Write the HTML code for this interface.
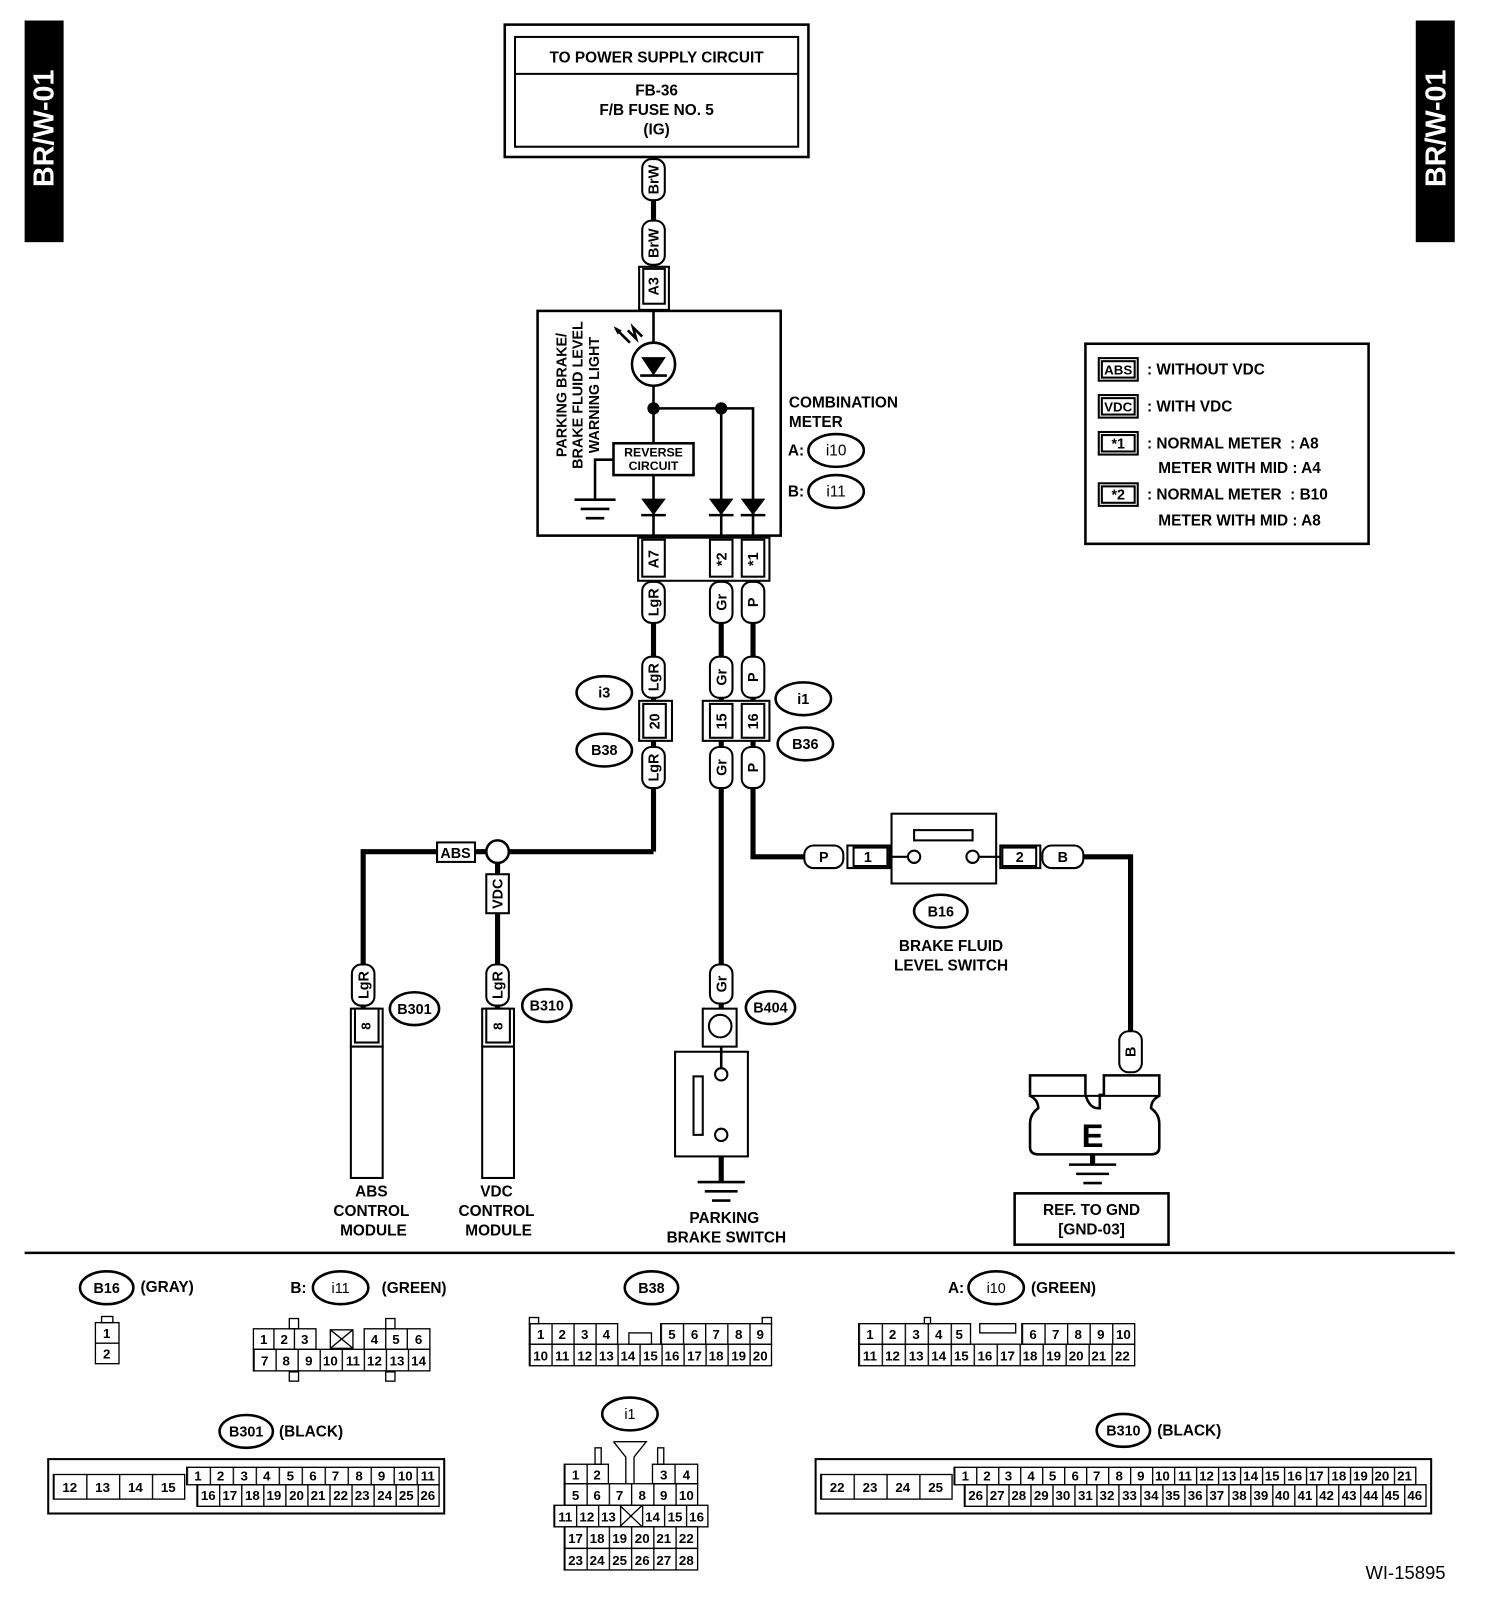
<!DOCTYPE html>
<html><head><meta charset="utf-8"><style>
html,body{margin:0;padding:0;background:#fff;}
svg{display:block;}
text{font-family:"Liberation Sans",sans-serif;font-weight:bold;fill:#000;}
.t{font-size:15px;}
.s{font-size:13px;font-weight:normal;}
.m{text-anchor:middle;}
</style></head><body>
<svg width="1504" height="1612" viewBox="0 0 1466 1571" preserveAspectRatio="none" xmlns="http://www.w3.org/2000/svg">
<defs>
<pattern id="pb301a" x="182" y="0" width="22.4" height="10" patternUnits="userSpaceOnUse"><rect width="1.3" height="10" fill="#000"/></pattern>
<pattern id="pb301b" x="192" y="0" width="21.5" height="10" patternUnits="userSpaceOnUse"><rect width="1.3" height="10" fill="#000"/></pattern>
<pattern id="pb310a" x="930" y="0" width="21.43" height="10" patternUnits="userSpaceOnUse"><rect width="1.3" height="10" fill="#000"/></pattern>
<pattern id="pb310b" x="940" y="0" width="21.43" height="10" patternUnits="userSpaceOnUse"><rect width="1.3" height="10" fill="#000"/></pattern>
<pattern id="p32" x="52" y="0" width="32" height="10" patternUnits="userSpaceOnUse"><rect width="1.3" height="10" fill="#000"/></pattern>
<pattern id="p32b" x="800" y="0" width="32" height="10" patternUnits="userSpaceOnUse"><rect width="1.3" height="10" fill="#000"/></pattern>
<pattern id="pb38" x="516" y="0" width="21.45" height="10" patternUnits="userSpaceOnUse"><rect width="1.3" height="10" fill="#000"/></pattern>
<pattern id="pb38a" x="644" y="0" width="21.6" height="10" patternUnits="userSpaceOnUse"><rect width="1.3" height="10" fill="#000"/></pattern>
<pattern id="pi10" x="837" y="0" width="22.4" height="10" patternUnits="userSpaceOnUse"><rect width="1.3" height="10" fill="#000"/></pattern>
<pattern id="pi10a" x="996" y="0" width="22" height="10" patternUnits="userSpaceOnUse"><rect width="1.3" height="10" fill="#000"/></pattern>
<pattern id="pi11" x="247" y="0" width="21.5" height="10" patternUnits="userSpaceOnUse"><rect width="1.3" height="10" fill="#000"/></pattern>
<pattern id="pi1a" x="550" y="0" width="21.67" height="10" patternUnits="userSpaceOnUse"><rect width="1.3" height="10" fill="#000"/></pattern>
<pattern id="pi1b" x="540" y="0" width="21.43" height="10" patternUnits="userSpaceOnUse"><rect width="1.3" height="10" fill="#000"/></pattern>
</defs>

<rect x="24" y="20" width="38" height="216" fill="#000"/>
<text transform="rotate(-90 52 125)" x="52" y="125" class="m" style="font-size:28px;fill:#fff">BR/W-01</text>
<rect x="1380" y="20" width="38" height="216" fill="#000"/>
<text transform="rotate(-90 1409 125)" x="1409" y="125" class="m" style="font-size:28px;fill:#fff">BR/W-01</text>

<rect x="492" y="24" width="296" height="129" fill="none" stroke="#000" stroke-width="2.5"/>
<rect x="502" y="36" width="276" height="107" fill="none" stroke="#000" stroke-width="2"/>
<line x1="502" y1="72" x2="778" y2="72" stroke="#000" stroke-width="2"/>
<text x="640" y="61" class="t m">TO POWER SUPPLY CIRCUIT</text>
<text x="640" y="93" class="t m">FB-36</text>
<text x="640" y="112" class="t m">F/B FUSE NO. 5</text>
<text x="640" y="131" class="t m">(IG)</text>

<g stroke="#000" stroke-width="5" fill="none">
<line x1="637" y1="153" x2="637" y2="260"/>
<line x1="637" y1="566" x2="637" y2="830"/>
<line x1="703" y1="566" x2="703" y2="985"/>
<polyline points="734,566 734,835 790,835"/>
<polyline points="354,985 354,830 637,830"/>
<line x1="485" y1="830" x2="485" y2="985"/>
<polyline points="1055,835 1102,835 1102,1010"/>
<line x1="703" y1="1127" x2="703" y2="1152"/>
<line x1="1065" y1="1125" x2="1065" y2="1135"/>
</g>

<g stroke="#000" stroke-width="2" fill="#fff">
<rect x="626" y="155" width="22" height="40" rx="9"/>
<rect x="626" y="215" width="22" height="43" rx="9"/>
<rect x="626" y="567" width="22" height="40" rx="9"/>
<rect x="626" y="640" width="22" height="40" rx="9"/>
<rect x="626" y="728" width="22" height="40" rx="9"/>
<rect x="692" y="567" width="22" height="40" rx="9"/>
<rect x="692" y="640" width="22" height="40" rx="9"/>
<rect x="692" y="728" width="22" height="40" rx="9"/>
<rect x="723" y="567" width="22" height="40" rx="9"/>
<rect x="723" y="640" width="22" height="40" rx="9"/>
<rect x="723" y="728" width="22" height="40" rx="9"/>
<rect x="343" y="940" width="22" height="40" rx="9"/>
<rect x="474" y="940" width="22" height="40" rx="9"/>
<rect x="692" y="940" width="22" height="38" rx="9"/>
<rect x="1091" y="1005" width="22" height="40" rx="9"/>
<rect x="784" y="824" width="38" height="22" rx="9"/>
<rect x="1016" y="824" width="40" height="22" rx="9"/>
<rect x="474" y="852" width="22" height="38"/>
<rect x="426" y="821" width="37" height="19"/>
</g>
<g class="s" style="font-size:14px">
<text transform="rotate(-90 637 175)" x="637" y="180" class="m" style="font-weight:bold">BrW</text>
<text transform="rotate(-90 637 237)" x="637" y="242" class="m" style="font-weight:bold">BrW</text>
<text transform="rotate(-90 637 587)" x="637" y="592" class="m" style="font-weight:bold">LgR</text>
<text transform="rotate(-90 637 660)" x="637" y="665" class="m" style="font-weight:bold">LgR</text>
<text transform="rotate(-90 637 748)" x="637" y="753" class="m" style="font-weight:bold">LgR</text>
<text transform="rotate(-90 703 587)" x="703" y="592" class="m" style="font-weight:bold">Gr</text>
<text transform="rotate(-90 703 660)" x="703" y="665" class="m" style="font-weight:bold">Gr</text>
<text transform="rotate(-90 703 748)" x="703" y="753" class="m" style="font-weight:bold">Gr</text>
<text transform="rotate(-90 734 587)" x="734" y="592" class="m" style="font-weight:bold">P</text>
<text transform="rotate(-90 734 660)" x="734" y="665" class="m" style="font-weight:bold">P</text>
<text transform="rotate(-90 734 748)" x="734" y="753" class="m" style="font-weight:bold">P</text>
<text transform="rotate(-90 354 960)" x="354" y="965" class="m" style="font-weight:bold">LgR</text>
<text transform="rotate(-90 485 960)" x="485" y="965" class="m" style="font-weight:bold">LgR</text>
<text transform="rotate(-90 703 959)" x="703" y="964" class="m" style="font-weight:bold">Gr</text>
<text transform="rotate(-90 1102 1025)" x="1102" y="1030" class="m" style="font-weight:bold">B</text>
<text transform="rotate(-90 485 871)" x="485" y="876" class="m" style="font-weight:bold">VDC</text>
<text x="803" y="840" class="m" style="font-weight:bold">P</text>
<text x="1036" y="840" class="m" style="font-weight:bold">B</text>
<text x="444" y="836" class="m" style="font-weight:bold">ABS</text>
</g>
<circle cx="485" cy="830" r="11" fill="#fff" stroke="#000" stroke-width="2.5"/>

<rect x="623" y="260" width="29" height="42" fill="#fff" stroke="#000" stroke-width="2"/>
<rect x="627" y="262" width="21" height="34" fill="#fff" stroke="#000" stroke-width="2"/>
<text transform="rotate(-90 637 279)" x="637" y="284" class="m" style="font-size:14px">A3</text>

<rect x="524" y="303" width="237" height="219" fill="#fff" stroke="#000" stroke-width="2.5"/>
<g stroke="#000" stroke-width="2.5" fill="none">
<line x1="637" y1="303" x2="637" y2="334"/>
<circle cx="637" cy="355" r="21"/>
<line x1="637" y1="376" x2="637" y2="432"/>
<line x1="637" y1="463" x2="637" y2="522"/>
<polyline points="637,398 734,398 734,522"/>
<line x1="703" y1="398" x2="703" y2="522"/>
<rect x="598" y="432" width="78" height="31"/>
<polyline points="598,448 580,448 580,486"/>
<line x1="560" y1="487" x2="600" y2="487"/>
<line x1="566" y1="496" x2="594" y2="496"/>
<line x1="571" y1="505" x2="589" y2="505"/>
<line x1="624" y1="366" x2="650" y2="366"/>
<line x1="625" y1="502" x2="649" y2="502"/>
<line x1="691" y1="502" x2="715" y2="502"/>
<line x1="722" y1="502" x2="746" y2="502"/>
<line x1="600" y1="320" x2="614" y2="334"/>
<polyline points="612,322 620,330 617,319 626,328"/>
</g>
<g fill="#000">
<polygon points="625,348 649,348 637,366"/>
<polygon points="625,486 649,486 637,502"/>
<polygon points="691,486 715,486 703,502"/>
<polygon points="722,486 746,486 734,502"/>
<circle cx="637" cy="398" r="6"/>
<circle cx="703" cy="398" r="6"/>
<polygon points="598,318 606,322 602,326"/>
</g>
<text x="637" y="445" class="m" style="font-size:12px">REVERSE</text>
<text x="637" y="458" class="m" style="font-size:12px">CIRCUIT</text>
<text transform="rotate(-90 547 385)" x="547" y="390" class="m" style="font-size:14px">PARKING BRAKE/</text>
<text transform="rotate(-90 563 385)" x="563" y="390" class="m" style="font-size:14px">BRAKE FLUID LEVEL</text>
<text transform="rotate(-90 579 385)" x="579" y="390" class="m" style="font-size:14px">WARNING LIGHT</text>

<rect x="622" y="524" width="128" height="42" fill="#fff" stroke="#000" stroke-width="2"/>
<g stroke="#000" stroke-width="2" fill="#fff">
<rect x="626" y="526" width="22" height="36"/>
<rect x="692" y="526" width="22" height="36"/>
<rect x="723" y="526" width="22" height="36"/>
</g>
<text transform="rotate(-90 637 545)" x="637" y="550" class="m" style="font-size:14px">A7</text>
<text transform="rotate(-90 703 545)" x="703" y="550" class="m" style="font-size:14px">*2</text>
<text transform="rotate(-90 734 545)" x="734" y="550" class="m" style="font-size:14px">*1</text>

<text x="769" y="397" class="t">COMBINATION</text>
<text x="769" y="416" class="t">METER</text>
<text x="768" y="444" class="t">A:</text>
<text x="768" y="484" class="t">B:</text>
<g fill="#fff" stroke="#000" stroke-width="2.5">
<ellipse cx="815" cy="439" rx="27" ry="16"/>
<ellipse cx="815" cy="479" rx="27" ry="16"/>
<ellipse cx="589" cy="675" rx="27" ry="16"/>
<ellipse cx="589" cy="731" rx="27" ry="16"/>
<ellipse cx="783" cy="681" rx="27" ry="16"/>
<ellipse cx="785" cy="725" rx="27" ry="16"/>
<ellipse cx="404" cy="983" rx="24" ry="16"/>
<ellipse cx="533" cy="980" rx="24" ry="16"/>
<ellipse cx="751" cy="982" rx="24" ry="16"/>
<ellipse cx="917" cy="888" rx="26" ry="16"/>
<ellipse cx="104" cy="1255" rx="26" ry="16"/>
<ellipse cx="332" cy="1255" rx="27" ry="16"/>
<ellipse cx="635" cy="1255" rx="26" ry="16"/>
<ellipse cx="971" cy="1255" rx="27" ry="16"/>
<ellipse cx="240" cy="1395" rx="26" ry="16"/>
<ellipse cx="614" cy="1378" rx="27" ry="16"/>
<ellipse cx="1095" cy="1394" rx="26" ry="16"/>
</g>
<g class="t m" style="font-size:14px">
<text x="815" y="444" class="s m" style="font-size:15px">i10</text>
<text x="815" y="484" class="s m" style="font-size:15px">i11</text>
<text x="589" y="680">i3</text>
<text x="589" y="736">B38</text>
<text x="783" y="686">i1</text>
<text x="785" y="730">B36</text>
<text x="404" y="988">B301</text>
<text x="533" y="985">B310</text>
<text x="751" y="987">B404</text>
<text x="917" y="893">B16</text>
<text x="104" y="1260">B16</text>
<text x="332" y="1260" style="font-weight:normal">i11</text>
<text x="635" y="1260">B38</text>
<text x="971" y="1260" style="font-weight:normal">i10</text>
<text x="240" y="1400">B301</text>
<text x="614" y="1383" style="font-weight:normal">i1</text>
<text x="1095" y="1399">B310</text>
</g>

<rect x="623" y="683" width="32" height="39" fill="#fff" stroke="#000" stroke-width="2"/>
<rect x="627" y="686" width="22" height="33" fill="#fff" stroke="#000" stroke-width="2"/>
<text transform="rotate(-90 638 703)" x="638" y="708" class="m" style="font-size:14px">20</text>
<rect x="685" y="683" width="65" height="39" fill="#fff" stroke="#000" stroke-width="2"/>
<rect x="692" y="686" width="22" height="33" fill="#fff" stroke="#000" stroke-width="2"/>
<rect x="723" y="686" width="22" height="33" fill="#fff" stroke="#000" stroke-width="2"/>
<text transform="rotate(-90 703 703)" x="703" y="708" class="m" style="font-size:14px">15</text>
<text transform="rotate(-90 734 703)" x="734" y="708" class="m" style="font-size:14px">16</text>

<g fill="#fff" stroke="#000" stroke-width="2">
<rect x="342" y="983" width="31" height="37"/>
<rect x="346" y="983" width="23" height="33"/>
<rect x="342" y="1020" width="31" height="128"/>
<rect x="470" y="983" width="31" height="37"/>
<rect x="474" y="983" width="23" height="33"/>
<rect x="470" y="1020" width="31" height="128"/>
<rect x="685" y="983" width="33" height="37"/>
<circle cx="702" cy="1000" r="11"/>
<rect x="658" y="1025" width="71" height="102"/>
<circle cx="703" cy="1047" r="6"/>
<circle cx="703" cy="1106" r="6"/>
<rect x="676" y="1049" width="9" height="57"/>
</g>
<text transform="rotate(-90 356 1000)" x="356" y="1005" class="m" style="font-size:13px">8</text>
<text transform="rotate(-90 485 1000)" x="485" y="1005" class="m" style="font-size:13px">8</text>
<g stroke="#000" stroke-width="2.5">
<line x1="703" y1="1020" x2="703" y2="1041"/>
<line x1="680" y1="1152" x2="726" y2="1152"/>
<line x1="687" y1="1161" x2="719" y2="1161"/>
<line x1="694" y1="1170" x2="712" y2="1170"/>
</g>
<g class="t m">
<text x="362" y="1166">ABS</text><text x="362" y="1185">CONTROL</text><text x="364" y="1204">MODULE</text>
<text x="484" y="1166">VDC</text><text x="484" y="1185">CONTROL</text><text x="486" y="1204">MODULE</text>
<text x="706" y="1192">PARKING</text><text x="708" y="1211">BRAKE SWITCH</text>
<text x="927" y="927">BRAKE FLUID</text><text x="927" y="946">LEVEL SWITCH</text>
</g>

<g fill="#fff" stroke="#000" stroke-width="2">
<rect x="826" y="824" width="41" height="22"/>
<rect x="832" y="826" width="33" height="18"/>
<rect x="869" y="793" width="102" height="68"/>
<rect x="891" y="809" width="57" height="10"/>
<circle cx="891" cy="835" r="6"/>
<circle cx="948" cy="835" r="6"/>
<rect x="975" y="824" width="39" height="22"/>
<rect x="977" y="826" width="33" height="18"/>
</g>
<g stroke="#000" stroke-width="2"><line x1="867" y1="835" x2="885" y2="835"/><line x1="954" y1="835" x2="975" y2="835"/></g>
<text x="846" y="840" class="m" style="font-size:14px">1</text>
<text x="994" y="840" class="m" style="font-size:14px">2</text>

<path d="M1004,1048 H1058 V1067 Q1062,1080 1070,1080 H1072 V1067 H1076 V1048 H1130 V1068 Q1122,1072 1122,1080 Q1130,1086 1130,1095 V1118 Q1130,1125 1122,1125 H1012 Q1004,1125 1004,1118 V1095 Q1004,1086 1012,1080 Q1012,1072 1004,1068 Z" fill="#fff" stroke="#000" stroke-width="2.5"/>
<line x1="1004" y1="1068" x2="1130" y2="1068" stroke="#000" stroke-width="2"/>
<text x="1065" y="1118" class="m" style="font-size:32px">E</text>
<g stroke="#000" stroke-width="2.5">
<line x1="1042" y1="1135" x2="1088" y2="1135"/>
<line x1="1049" y1="1144" x2="1081" y2="1144"/>
<line x1="1056" y1="1153" x2="1074" y2="1153"/>
</g>
<rect x="989" y="1163" width="150" height="50" fill="#fff" stroke="#000" stroke-width="2.5"/>
<text x="1064" y="1184" class="t m">REF. TO GND</text>
<text x="1064" y="1203" class="t m">[GND-03]</text>

<rect x="1058" y="335" width="276" height="195" fill="#fff" stroke="#000" stroke-width="2.5"/>
<g fill="#fff" stroke="#000" stroke-width="2">
<rect x="1071" y="349" width="38" height="22"/><rect x="1074" y="352" width="32" height="16"/>
<rect x="1071" y="385" width="38" height="22"/><rect x="1074" y="388" width="32" height="16"/>
<rect x="1071" y="421" width="38" height="22"/><rect x="1074" y="424" width="32" height="16"/>
<rect x="1071" y="471" width="38" height="22"/><rect x="1074" y="474" width="32" height="16"/>
</g>
<g class="t">
<text x="1090" y="365" class="m" style="font-size:13px">ABS</text>
<text x="1090" y="401" class="m" style="font-size:13px">VDC</text>
<text x="1090" y="437" class="m" style="font-size:14px">*1</text>
<text x="1090" y="487" class="m" style="font-size:14px">*2</text>
<text x="1118" y="365">: WITHOUT VDC</text>
<text x="1118" y="401">: WITH VDC</text>
<text x="1118" y="437">: NORMAL METER&#160;&#160;: A8</text>
<text x="1129" y="461">METER WITH MID : A4</text>
<text x="1118" y="487">: NORMAL METER&#160;&#160;: B10</text>
<text x="1129" y="512">METER WITH MID : A8</text>
</g>

<line x1="24" y1="1221" x2="1418" y2="1221" stroke="#000" stroke-width="2.5"/>

<g class="t"><text x="137" y="1259">(GRAY)</text><text x="283" y="1260">B:</text><text x="372" y="1260">(GREEN)</text>
<text x="924" y="1260">A:</text><text x="1005" y="1260">(GREEN)</text>
<text x="272" y="1400">(BLACK)</text><text x="1128" y="1399">(BLACK)</text></g>

<g fill="none" stroke="#000" stroke-width="1.3">
<rect x="99" y="1283" width="11" height="6"/>
<rect x="93" y="1289" width="23" height="40"/><line x1="93" y1="1309" x2="116" y2="1309"/>
<rect x="282" y="1285" width="9" height="10"/><rect x="376" y="1285" width="9" height="10"/>
<rect x="282" y="1337" width="9" height="9"/><rect x="376" y="1337" width="9" height="9"/>
<rect x="247" y="1295" width="61" height="20"/><line x1="267" y1="1295" x2="267" y2="1315"/><line x1="287" y1="1295" x2="287" y2="1315"/>
<rect x="322" y="1296" width="22" height="18"/><line x1="322" y1="1296" x2="344" y2="1314"/><line x1="344" y1="1296" x2="322" y2="1314"/>
<rect x="355" y="1295" width="64" height="20"/><line x1="376" y1="1295" x2="376" y2="1315"/><line x1="397" y1="1295" x2="397" y2="1315"/>
<rect x="247" y="1315" width="172" height="21" fill="url(#pi11)"/>
<rect x="516" y="1284" width="9" height="6"/><rect x="743" y="1284" width="9" height="6"/>
<rect x="516" y="1290" width="86" height="20" fill="url(#pb38)"/>
<rect x="613" y="1299" width="22" height="11"/>
<rect x="644" y="1290" width="108" height="20" fill="url(#pb38a)"/>
<rect x="516" y="1310" width="236" height="21" fill="url(#pb38)"/>
<rect x="901" y="1284" width="6" height="6"/>
<rect x="837" y="1290" width="109" height="20" fill="url(#pi10)"/>
<rect x="955" y="1290" width="35" height="9"/>
<rect x="996" y="1290" width="110" height="20" fill="url(#pi10a)"/>
<rect x="837" y="1310" width="269" height="21" fill="url(#pi10)"/>
<rect x="47" y="1422" width="386" height="53" stroke-width="2"/>
<rect x="52" y="1437" width="128" height="24" fill="url(#p32)"/>
<rect x="182" y="1430" width="246" height="17" fill="url(#pb301a)"/>
<rect x="192" y="1447" width="236" height="21" fill="url(#pb301b)"/>
<rect x="795" y="1422" width="600" height="53" stroke-width="2"/>
<rect x="800" y="1437" width="128" height="24" fill="url(#p32b)"/>
<rect x="930" y="1430" width="450" height="17" fill="url(#pb310a)"/>
<rect x="940" y="1447" width="450" height="21" fill="url(#pb310b)"/>
<rect x="580" y="1411" width="6" height="16"/><rect x="641" y="1411" width="6" height="16"/>
<path d="M598,1405 H630 L618,1420 V1446 M610,1446 V1420 L598,1405"/>
<rect x="550" y="1427" width="43" height="19" fill="url(#pi1a)"/>
<rect x="636" y="1427" width="44" height="19"/><line x1="658" y1="1427" x2="658" y2="1446"/>
<rect x="550" y="1446" width="130" height="21" fill="url(#pi1a)"/>
<rect x="540" y="1467" width="150" height="21" fill="url(#pi1b)"/>
<line x1="604" y1="1467" x2="626" y2="1488"/><line x1="626" y1="1467" x2="604" y2="1488"/>
<rect x="550" y="1488" width="130" height="21" fill="url(#pi1a)"/>
<rect x="550" y="1509" width="130" height="21" fill="url(#pi1a)"/>
</g>

<g class="s m">
<text x="104" y="1304">1</text><text x="104" y="1324">2</text>
<text x="257" y="1310">1</text><text x="277" y="1310">2</text><text x="297" y="1310">3</text>
<text x="365" y="1310">4</text><text x="386" y="1310">5</text><text x="408" y="1310">6</text>
<text x="258" y="1331">7</text><text x="279" y="1331">8</text><text x="301" y="1331">9</text><text x="322" y="1331">10</text><text x="344" y="1331">11</text><text x="365" y="1331">12</text><text x="387" y="1331">13</text><text x="408" y="1331">14</text>
<text x="527" y="1305">1</text><text x="548" y="1305">2</text><text x="570" y="1305">3</text><text x="591" y="1305">4</text>
<text x="655" y="1305">5</text><text x="677" y="1305">6</text><text x="698" y="1305">7</text><text x="720" y="1305">8</text><text x="741" y="1305">9</text>
<text x="527" y="1326">10</text><text x="548" y="1326">11</text><text x="570" y="1326">12</text><text x="591" y="1326">13</text><text x="612" y="1326">14</text><text x="634" y="1326">15</text><text x="655" y="1326">16</text><text x="677" y="1326">17</text><text x="698" y="1326">18</text><text x="720" y="1326">19</text><text x="741" y="1326">20</text>
<text x="848" y="1305">1</text><text x="870" y="1305">2</text><text x="893" y="1305">3</text><text x="915" y="1305">4</text><text x="935" y="1305">5</text>
<text x="1007" y="1305">6</text><text x="1029" y="1305">7</text><text x="1051" y="1305">8</text><text x="1073" y="1305">9</text><text x="1095" y="1305">10</text>
<text x="848" y="1326">11</text><text x="870" y="1326">12</text><text x="893" y="1326">13</text><text x="915" y="1326">14</text><text x="937" y="1326">15</text><text x="960" y="1326">16</text><text x="982" y="1326">17</text><text x="1004" y="1326">18</text><text x="1027" y="1326">19</text><text x="1049" y="1326">20</text><text x="1071" y="1326">21</text><text x="1094" y="1326">22</text>
<text x="68" y="1454">12</text><text x="100" y="1454">13</text><text x="132" y="1454">14</text><text x="164" y="1454">15</text>
<text x="193" y="1443">1</text><text x="215" y="1443">2</text><text x="238" y="1443">3</text><text x="260" y="1443">4</text><text x="283" y="1443">5</text><text x="305" y="1443">6</text><text x="327" y="1443">7</text><text x="350" y="1443">8</text><text x="372" y="1443">9</text><text x="395" y="1443">10</text><text x="417" y="1443">11</text>
<text x="203" y="1462">16</text><text x="224" y="1462">17</text><text x="246" y="1462">18</text><text x="267" y="1462">19</text><text x="289" y="1462">20</text><text x="310" y="1462">21</text><text x="332" y="1462">22</text><text x="353" y="1462">23</text><text x="375" y="1462">24</text><text x="396" y="1462">25</text><text x="417" y="1462">26</text>
<text x="816" y="1454">22</text><text x="848" y="1454">23</text><text x="880" y="1454">24</text><text x="912" y="1454">25</text>
<text x="941" y="1443">1</text><text x="962" y="1443">2</text><text x="983" y="1443">3</text><text x="1005" y="1443">4</text><text x="1026" y="1443">5</text><text x="1048" y="1443">6</text><text x="1069" y="1443">7</text><text x="1091" y="1443">8</text><text x="1112" y="1443">9</text><text x="1133" y="1443">10</text><text x="1155" y="1443">11</text><text x="1176" y="1443">12</text><text x="1198" y="1443">13</text><text x="1219" y="1443">14</text><text x="1240" y="1443">15</text><text x="1262" y="1443">16</text><text x="1283" y="1443">17</text><text x="1305" y="1443">18</text><text x="1326" y="1443">19</text><text x="1347" y="1443">20</text><text x="1369" y="1443">21</text>
<text x="951" y="1462">26</text><text x="972" y="1462">27</text><text x="993" y="1462">28</text><text x="1015" y="1462">29</text><text x="1036" y="1462">30</text><text x="1058" y="1462">31</text><text x="1079" y="1462">32</text><text x="1101" y="1462">33</text><text x="1122" y="1462">34</text><text x="1143" y="1462">35</text><text x="1165" y="1462">36</text><text x="1186" y="1462">37</text><text x="1208" y="1462">38</text><text x="1229" y="1462">39</text><text x="1250" y="1462">40</text><text x="1272" y="1462">41</text><text x="1293" y="1462">42</text><text x="1315" y="1462">43</text><text x="1336" y="1462">44</text><text x="1357" y="1462">45</text><text x="1379" y="1462">46</text>
<text x="561" y="1442">1</text><text x="582" y="1442">2</text><text x="647" y="1442">3</text><text x="669" y="1442">4</text>
<text x="561" y="1462">5</text><text x="582" y="1462">6</text><text x="604" y="1462">7</text><text x="626" y="1462">8</text><text x="647" y="1462">9</text><text x="669" y="1462">10</text>
<text x="551" y="1483">11</text><text x="572" y="1483">12</text><text x="593" y="1483">13</text><text x="636" y="1483">14</text><text x="658" y="1483">15</text><text x="679" y="1483">16</text>
<text x="561" y="1504">17</text><text x="582" y="1504">18</text><text x="604" y="1504">19</text><text x="626" y="1504">20</text><text x="647" y="1504">21</text><text x="669" y="1504">22</text>
<text x="561" y="1525">23</text><text x="582" y="1525">24</text><text x="604" y="1525">25</text><text x="626" y="1525">26</text><text x="647" y="1525">27</text><text x="669" y="1525">28</text>
</g>

<text x="1370" y="1539" class="m" style="font-size:18px;font-weight:normal">WI-15895</text>
</svg>
</body></html>
